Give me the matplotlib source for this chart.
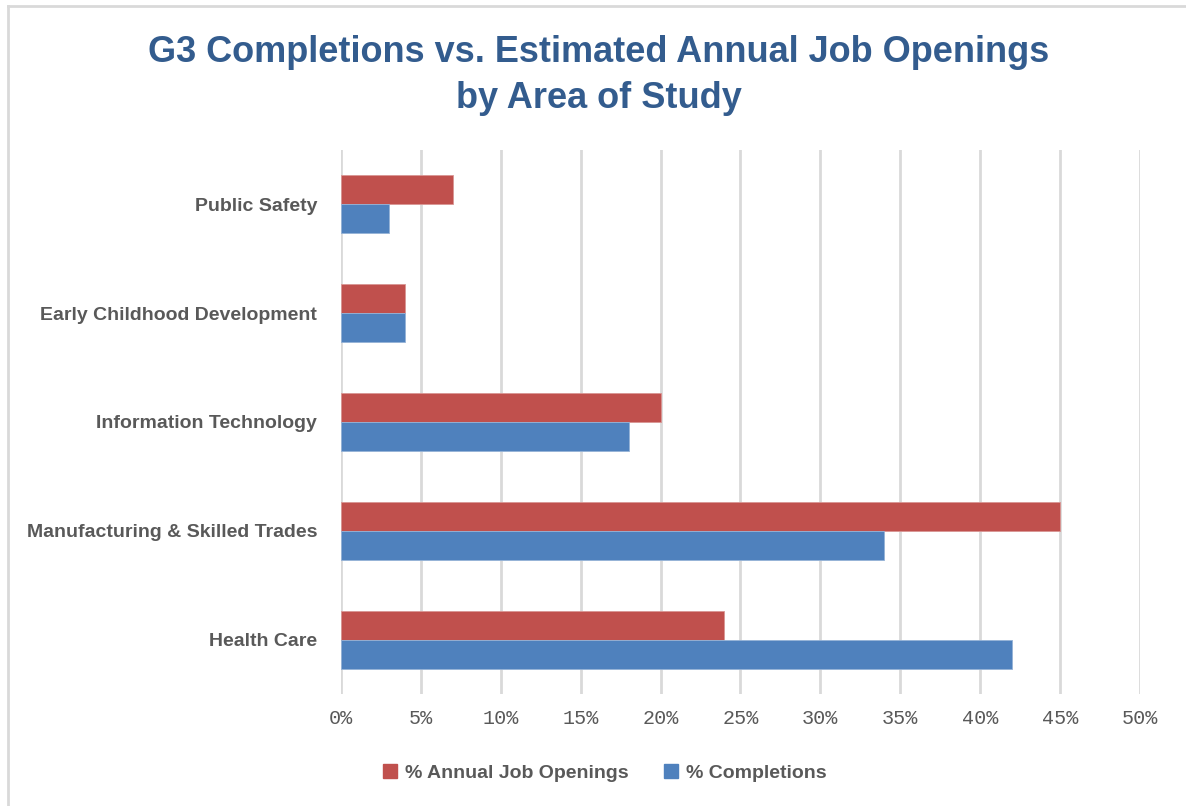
import matplotlib
matplotlib.use("Agg")
import matplotlib.pyplot as plt
from matplotlib.ticker import PercentFormatter
from matplotlib.patches import Patch
import numpy as np

# data (percent)
areas = ["Health Care", "Manufacturing & Skilled Trades", "Information Technology",
         "Early Childhood Development", "Public Safety"]
job_openings = [24, 45, 20, 4, 7]
completions = [42, 34, 18, 4, 3]

red = "#C0504D"
blue = "#4F81BD"
grey_text = "#595959"
grid_col = "#D9D9D9"
sans = ["Liberation Sans", "DejaVu Sans"]

fig = plt.figure(figsize=(11.86, 8.06), dpi=100)
ax = fig.add_axes([0.2875, 0.139, 0.9612 - 0.2875, 0.814 - 0.139])

y = np.arange(len(areas))
h = 0.266
ax.barh(y + h / 2, job_openings, height=h, color=red, edgecolor="#D99694", linewidth=0.6,
        label="% Annual Job Openings", zorder=3)
ax.barh(y - h / 2, completions, height=h, color=blue, edgecolor="#95B3D7", linewidth=0.6,
        label="% Completions", zorder=3)

ax.set_xlim(0, 50)
ax.set_ylim(-0.5, len(areas) - 0.5)
ax.set_xticks(np.arange(0, 51, 5))
ax.xaxis.set_major_formatter(PercentFormatter(decimals=0))
ax.set_yticks(y)
ax.set_yticklabels(areas, family=sans, fontsize=14, fontweight="bold", color=grey_text)
for lab in ax.get_xticklabels():
    lab.set_family(["Liberation Mono", "DejaVu Sans Mono"])
    lab.set_fontsize(14.5)
    lab.set_color(grey_text)

ax.grid(axis="x", color=grid_col, linewidth=2, zorder=0)
ax.tick_params(axis="both", length=0)
ax.tick_params(axis="y", pad=17)
ax.tick_params(axis="x", pad=11)
for s in ax.spines.values():
    s.set_visible(False)

fig.text(0.505, 0.906, "G3 Completions vs. Estimated Annual Job Openings\nby Area of Study",
         ha="center", va="center", family=sans, fontsize=26, fontweight="bold",
         color="#335C8E", linespacing=1.4)

handles = [Patch(color=red, label="% Annual Job Openings"),
           Patch(color=blue, label="% Completions")]
fig.legend(handles=handles, loc="center", bbox_to_anchor=(0.51, 0.041), ncol=2, frameon=False,
           prop={"family": sans, "size": 14, "weight": "bold"}, labelcolor=grey_text,
           handlelength=0.75, handleheight=0.75, handletextpad=0.4, columnspacing=1.8)

# chart-area border (only left and top edges are visible in the crop)
fig.add_artist(plt.Line2D([0.0065, 0.0065], [0, 0.993], color=grid_col, linewidth=2,
                          transform=fig.transFigure))
fig.add_artist(plt.Line2D([0.0065, 1], [0.993, 0.993], color=grid_col, linewidth=2,
                          transform=fig.transFigure))

fig.savefig("out.png", dpi=100)
